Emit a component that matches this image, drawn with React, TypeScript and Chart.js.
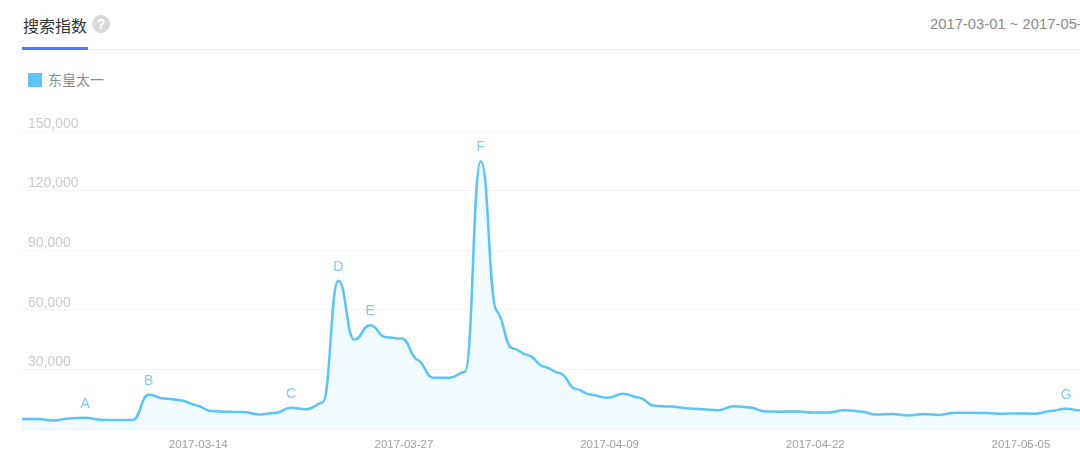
import React, { useEffect, useRef } from "react";
import { Chart, registerables } from "chart.js";

Chart.register(...registerables);

const seriesName = "东皇太一";
const pageTitle = "搜索指数";
const dateRange = "2017-03-01 ~ 2017-05-31";

const march = [
  5000, 5000, 4300, 5300, 5650, 4650, 4500, 4500, 17200, 15400, 14500, 12000, 9000, 8700, 8500,
  7300, 8000, 10700, 10000, 13300, 74600, 45000, 52200, 46200, 45500, 34800, 25800, 25800, 28800,
  134800, 59500,
];
const april = [
  40600, 37100, 31300, 28100, 20200, 17200, 15700, 17700, 15700, 11700, 11300, 10500, 10000, 9500,
  11500, 10800, 8800, 8700, 8800, 8300, 8300, 9500, 8800, 7300, 7500, 6800, 7500, 7100, 8200, 8200,
];
const may = [8000, 7700, 7800, 7700, 9000, 10200, 9300];
const values = [...march, ...april, ...may];

const dates = values.map((_, i) => {
  const d = new Date(Date.UTC(2017, 2, 1 + i));
  return d.toISOString().slice(0, 10);
});
const shownDates = ["2017-03-14", "2017-03-27", "2017-04-09", "2017-04-22", "2017-05-05"];

const markerLetters = ["A", "B", "C", "D", "E", "F", "G"];
const markerDates = [
  "2017-03-05", "2017-03-09", "2017-03-18", "2017-03-21", "2017-03-23", "2017-03-30", "2017-05-06",
];

const LINE = "#5cc4f6";
const latin = '"Liberation Sans", "Noto Sans CJK SC", sans-serif';

// Reshapes the curve so it eases into each day's value, giving the shelves of the original line.
const easedCurvePlugin = {
  id: "easedCurve",
  beforeDraw(chart: any) {
    const meta = chart.getDatasetMeta(0);
    const line = meta.dataset;
    line.updateControlPoints(chart.chartArea, "x");
    const pts = meta.data;
    const slope = pts.map((p: any, i: number) => {
      const prev = pts[i - 1];
      const next = pts[i + 1];
      if (!prev || !next) return 0;
      const a = (p.y - prev.y) / (p.x - prev.x);
      const b = (next.y - p.y) / (next.x - p.x);
      if (a * b <= 0) return 0;
      return 0.35 * Math.sign(a) * Math.min(Math.abs(a), Math.abs(b));
    });
    pts.forEach((p: any, i: number) => {
      const prev = pts[i - 1];
      const next = pts[i + 1];
      if (prev) {
        const dx = (p.x - prev.x) * 0.5;
        p.cp1x = p.x - dx;
        p.cp1y = p.y - slope[i] * dx;
      }
      if (next) {
        const dx = (next.x - p.x) * 0.5;
        p.cp2x = p.x + dx;
        p.cp2y = p.y + slope[i] * dx;
      }
    });
  },
};

const markerPlugin = {
  id: "markerLetters",
  afterDatasetsDraw(chart: any) {
    const { ctx, scales } = chart;
    ctx.save();
    ctx.font = `14px ${latin}`;
    ctx.fillStyle = "#7ccdf8";
    ctx.textAlign = "center";
    ctx.textBaseline = "middle";
    markerLetters.forEach((letter, i) => {
      const idx = dates.indexOf(markerDates[i]);
      ctx.fillText(letter, scales.x.getPixelForValue(idx), scales.y.getPixelForValue(values[idx]) - 14);
    });
    ctx.restore();
  },
};

export default function App() {
  const ref = useRef<HTMLCanvasElement>(null);
  useEffect(() => {
    const chart = new Chart(ref.current!, {
      type: "line",
      data: {
        labels: dates,
        datasets: [
          {
            label: seriesName,
            data: values,
            borderColor: LINE,
            borderWidth: 2.5,
            backgroundColor: "#f1faff",
            fill: true,
            pointRadius: 0,
            cubicInterpolationMode: "monotone",
          },
        ],
      },
      options: {
        animation: false,
        responsive: false,
        layout: { padding: { left: 22, top: 131, right: 0, bottom: 0 } },
        plugins: { legend: { display: false }, tooltip: { enabled: false } },
        scales: {
          x: {
            grid: { display: false, drawTicks: false },
            border: { display: false },
            afterFit: (s: any) => {
              s.height = 35;
              s.paddingLeft = 0;
              s.paddingRight = 0;
            },
            ticks: {
              autoSkip: false,
              maxRotation: 0,
              align: "end",
              padding: 9,
              color: "#a0a0a0",
              font: { family: latin, size: 11.5 },
              callback: (_: any, i: number) => (shownDates.includes(dates[i]) ? dates[i] : ""),
            },
          },
          y: {
            min: 0,
            max: 150000,
            afterFit: (s: any) => {
              s.width = 0;
            },
            grid: { color: "#f4f4f4", drawTicks: false, lineWidth: 1 },
            border: { display: false },
            ticks: {
              stepSize: 30000,
              mirror: true,
              padding: 6,
              labelOffset: -7,
              color: "#cacaca",
              font: { family: latin, size: 14 },
              callback: (v: any) => (v === 0 ? "" : Number(v).toLocaleString("en-US")),
            },
          },
        },
      },
      plugins: [easedCurvePlugin, markerPlugin],
    } as any);
    return () => chart.destroy();
  }, []);

  return (
    <div
      style={{
        position: "fixed",
        left: 0,
        top: 0,
        width: 1080,
        height: 464,
        overflow: "hidden",
        background: "#fff",
        fontFamily: latin,
      }}
    >
      <div style={{ position: "absolute", left: 23, top: 14, fontSize: 16, lineHeight: "22px", color: "#333", fontFamily: '"Noto Sans CJK SC", sans-serif' }}>
        {pageTitle}
      </div>
      <div
        style={{
          position: "absolute",
          left: 92,
          top: 15,
          width: 18,
          height: 18,
          borderRadius: 9,
          background: "#d9d9d9",
          color: "#fff",
          fontSize: 14,
          fontWeight: 700,
          lineHeight: "18px",
          textAlign: "center",
        }}
      >
        ?
      </div>
      <div style={{ position: "absolute", left: 22, top: 49, width: 1058, height: 1, background: "#f1f1f1" }} />
      <div style={{ position: "absolute", left: 22, top: 47, width: 66, height: 2.5, background: "#4a7bf0" }} />
      <div style={{ position: "absolute", left: 930, top: 14, fontSize: 14.8, lineHeight: "20px", color: "#8a8a8a", whiteSpace: "nowrap" }}>
        {dateRange}
      </div>
      <div style={{ position: "absolute", left: 28, top: 73, width: 14, height: 14, background: LINE }} />
      <div style={{ position: "absolute", left: 48, top: 70, fontSize: 14, lineHeight: "18px", color: "#8c8c8c", fontFamily: '"Noto Sans CJK SC", sans-serif' }}>
        {seriesName}
      </div>
      <canvas ref={ref} width={1082} height={464} style={{ position: "absolute", left: 0, top: 0 }} />
    </div>
  );
}
